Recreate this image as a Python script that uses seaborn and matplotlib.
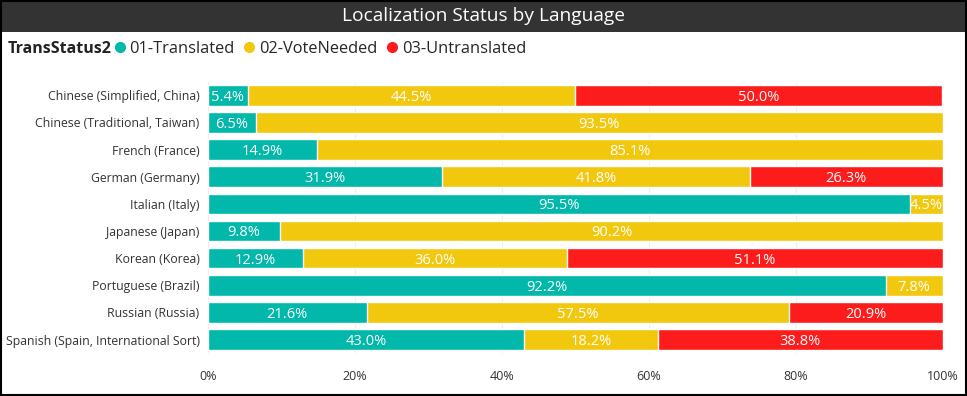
import pandas as pd
import numpy as np
import matplotlib.pyplot as plt
import seaborn as sns
from matplotlib.lines import Line2D
from matplotlib.patches import Rectangle

languages = [
    "Chinese (Simplified, China)",
    "Chinese (Traditional, Taiwan)",
    "French (France)",
    "German (Germany)",
    "Italian (Italy)",
    "Japanese (Japan)",
    "Korean (Korea)",
    "Portuguese (Brazil)",
    "Russian (Russia)",
    "Spanish (Spain, International Sort)",
]
translated = [5.4, 6.5, 14.9, 31.9, 95.5, 9.8, 12.9, 92.2, 21.6, 43.0]
vote_needed = [44.5, 93.5, 85.1, 41.8, 4.5, 90.2, 36.0, 7.8, 57.5, 18.2]
untranslated = [50.0, 0.0, 0.0, 26.3, 0.0, 0.0, 51.1, 0.0, 20.9, 38.8]

status_names = ["01-Translated", "02-VoteNeeded", "03-Untranslated"]
colors = ["#01B8AA", "#F2C80F", "#FD1C1C"]

df = pd.DataFrame({
    "language": languages,
    "t": translated,
    "v": vote_needed,
    "u": untranslated,
})
df["c1"] = df["t"]
df["c2"] = df["t"] + df["v"]
df["c3"] = df["t"] + df["v"] + df["u"]

sns.set_theme(style="white")
plt.rcParams["font.family"] = ["Open Sans", "DejaVu Sans"]

fig = plt.figure(figsize=(9.67, 3.96), dpi=100)
ax = fig.add_axes([0.215, 0.1083, 0.76, 0.6854])

# stacked look: draw cumulative totals back to front
for col, c in zip(["c3", "c2", "c1"], colors[::-1]):
    sns.barplot(data=df, x=col, y="language", color=c, orient="h",
                width=0.76, saturation=1, ax=ax, zorder=2)

# segment labels
for i, row in df.iterrows():
    starts = [0, row["c1"], row["c2"]]
    for s, val in zip(starts, [row["t"], row["v"], row["u"]]):
        if val > 0:
            ax.text(s + val / 2, i, f"{val:.1f}%", ha="center", va="center_baseline",
                    color="white", fontsize=10.5, zorder=3)

ax.set_xlim(0, 100)
ax.set_xticks([0, 20, 40, 60, 80, 100])
ax.set_xticklabels(["0%", "20%", "40%", "60%", "80%", "100%"])
ax.set_xlabel("")
ax.set_ylabel("")
ax.tick_params(axis="x", labelsize=9, colors="#333333", pad=12, length=0)
ax.tick_params(axis="y", labelsize=8.8, colors="#333333", pad=6, length=0)
ax.grid(axis="x", color="#eeeeee", linewidth=0.8, zorder=0)
ax.set_axisbelow(True)
for sp in ax.spines.values():
    sp.set_visible(False)

# title bar
fig.patches.append(Rectangle((0, 1 - 32 / 396), 1, 32 / 396, transform=fig.transFigure,
                             facecolor="#333333", edgecolor="none", zorder=0))
fig.text(0.5, 1 - 16 / 396, "Localization Status by Language", ha="center", va="center",
         color="white", fontsize=13.8)

# legend
fig.text(8 / 967, 1 - 49 / 396, "TransStatus2", ha="left", va="center",
         fontsize=11.5, fontweight="bold", color="#222222")
handles = [Line2D([], [], marker="o", linestyle="none", markersize=7,
                  markerfacecolor=c, markeredgecolor=c) for c in colors]
fig.legend(handles, status_names, loc="center left", ncol=3, frameon=False,
           bbox_to_anchor=(113 / 967, 1 - 49 / 396), fontsize=11.8,
           handlelength=0.8, handletextpad=0.2, columnspacing=0.5,
           borderaxespad=0, borderpad=0)

# outer border
fig.patches.append(Rectangle((0.001, 0.002), 0.998, 0.996, transform=fig.transFigure,
                             facecolor="none", edgecolor="black", linewidth=1.5, zorder=5))

fig.savefig("out.png", dpi=100)
